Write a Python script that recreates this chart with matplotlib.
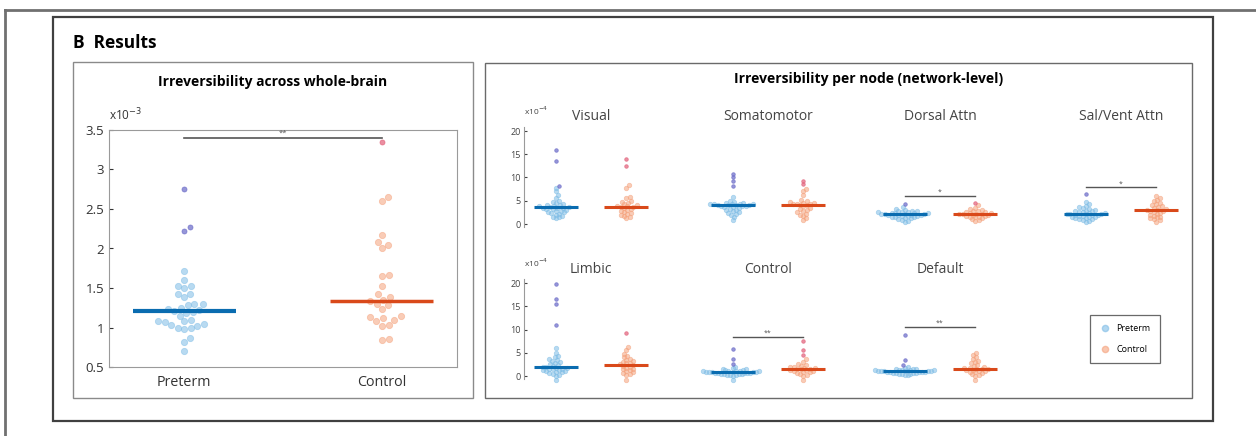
import numpy as np
import matplotlib
matplotlib.use('Agg')
import matplotlib.pyplot as plt
from matplotlib.patches import Rectangle
from matplotlib.lines import Line2D
from matplotlib.ticker import FormatStrFormatter

plt.rcParams['font.family'] = ['Open Sans', 'DejaVu Sans']

# whole-brain irreversibility (x10^-3)
groups = ['Preterm', 'Control']
pre_whole = [2.75, 2.27, 2.22, 1.72, 1.60, 1.53, 1.52, 1.50, 1.43, 1.42, 1.38, 1.30,
             1.30, 1.28, 1.25, 1.24, 1.22, 1.21, 1.20, 1.18, 1.15, 1.10, 1.08, 1.08,
             1.07, 1.05, 1.03, 1.02, 1.00, 1.00, 0.98, 0.87, 0.82, 0.70]
ctl_whole = [3.35, 2.65, 2.60, 2.17, 2.08, 2.05, 2.00, 1.67, 1.65, 1.53, 1.42, 1.38,
             1.35, 1.33, 1.30, 1.28, 1.23, 1.15, 1.13, 1.12, 1.10, 1.08, 1.03, 1.02,
             0.85, 0.84]
whole_sig = (3.4, '**')

# per network irreversibility (x10^-4)
networks = ['Visual', 'Somatomotor', 'Dorsal Attn', 'Sal/Vent Attn',
            'Limbic', 'Control', 'Default']
pre_net = [
    [16.0, 13.5, 8.2, 7.8, 7.0, 6.2, 5.6, 5.0, 4.8, 4.5, 4.3, 4.1, 4.0, 3.9, 3.8, 3.7, 3.6,
     3.5, 3.5, 3.4, 3.3, 3.2, 3.0, 2.9, 2.8, 2.6, 2.5, 2.3, 2.2, 2.0, 1.8, 1.6, 1.4, 1.2],
    [10.8, 10.0, 9.2, 8.2, 5.8, 5.0, 4.8, 4.6, 4.5, 4.4, 4.3, 4.3, 4.2, 4.2, 4.1, 4.1, 4.0,
     4.0, 3.9, 3.9, 3.8, 3.7, 3.6, 3.5, 3.3, 3.1, 3.0, 2.8, 2.6, 2.4, 2.2, 2.0, 1.5, 0.8],
    [4.2, 3.6, 3.2, 3.0, 2.9, 2.8, 2.7, 2.6, 2.5, 2.5, 2.4, 2.4, 2.3, 2.3, 2.2, 2.2, 2.1,
     2.1, 2.0, 2.0, 1.9, 1.9, 1.8, 1.8, 1.7, 1.6, 1.5, 1.4, 1.3, 1.2, 1.0, 0.9, 0.7, 0.5],
    [6.5, 4.8, 4.3, 3.9, 3.6, 3.4, 3.2, 3.0, 2.9, 2.8, 2.7, 2.6, 2.5, 2.4, 2.3, 2.2, 2.2,
     2.1, 2.1, 2.0, 2.0, 1.9, 1.8, 1.7, 1.6, 1.5, 1.4, 1.3, 1.2, 1.1, 1.0, 0.9, 0.7, 0.5],
    [19.7, 16.5, 15.5, 11.0, 6.0, 5.0, 4.4, 4.0, 3.7, 3.4, 3.2, 3.0, 2.8, 2.6, 2.4, 2.2, 2.0,
     1.9, 1.8, 1.7, 1.6, 1.5, 1.4, 1.3, 1.2, 1.1, 1.0, 0.9, 0.8, 0.6, 0.5, 0.3, 0.1, -0.8],
    [5.8, 3.6, 2.6, 2.0, 1.7, 1.5, 1.4, 1.3, 1.2, 1.1, 1.1, 1.0, 1.0, 1.0, 0.9, 0.9, 0.9,
     0.8, 0.8, 0.8, 0.7, 0.7, 0.7, 0.6, 0.6, 0.5, 0.5, 0.4, 0.4, 0.3, 0.3, 0.2, 0.1, -0.8],
    [8.8, 3.4, 2.4, 2.0, 1.8, 1.6, 1.5, 1.4, 1.3, 1.3, 1.2, 1.2, 1.2, 1.1, 1.1, 1.1, 1.0,
     1.0, 1.0, 1.0, 0.9, 0.9, 0.9, 0.8, 0.8, 0.7, 0.7, 0.6, 0.6, 0.5, 0.5, 0.4, 0.3, 0.2],
]
ctl_net = [
    [14.0, 12.5, 8.3, 7.7, 5.8, 5.5, 5.0, 4.8, 4.6, 4.3, 4.1, 3.9, 3.8, 3.7, 3.6, 3.4, 3.2,
     3.0, 2.8, 2.6, 2.4, 2.2, 2.0, 1.8, 1.5, 1.2],
    [9.3, 8.5, 7.6, 7.0, 6.2, 5.2, 4.9, 4.7, 4.6, 4.5, 4.4, 4.3, 4.2, 4.1, 4.0, 3.8, 3.5,
     3.2, 3.0, 2.8, 2.5, 2.2, 2.0, 1.8, 1.3, 0.9],
    [4.6, 4.0, 3.5, 3.2, 3.0, 2.8, 2.7, 2.6, 2.5, 2.4, 2.3, 2.2, 2.2, 2.1, 2.1, 2.0, 1.9,
     1.8, 1.7, 1.6, 1.5, 1.4, 1.2, 1.0, 0.8, 0.6],
    [6.0, 5.6, 5.2, 4.9, 4.6, 4.4, 4.1, 3.9, 3.7, 3.5, 3.3, 3.1, 3.0, 2.9, 2.8, 2.6, 2.4,
     2.2, 2.0, 1.8, 1.6, 1.4, 1.2, 1.0, 0.8, 0.5],
    [9.2, 6.2, 5.5, 4.8, 4.3, 4.0, 3.7, 3.5, 3.3, 3.1, 2.9, 2.7, 2.5, 2.4, 2.2, 2.0, 1.8,
     1.6, 1.4, 1.2, 1.0, 0.8, 0.6, 0.4, 0.2, -0.8],
    [7.5, 5.6, 4.6, 3.6, 3.0, 2.6, 2.4, 2.2, 2.0, 1.9, 1.8, 1.7, 1.6, 1.5, 1.4, 1.3, 1.2,
     1.1, 1.0, 0.9, 0.8, 0.6, 0.5, 0.3, 0.1, -0.8],
    [5.0, 4.5, 4.0, 3.6, 3.2, 3.0, 2.7, 2.4, 2.2, 2.0, 1.8, 1.7, 1.6, 1.5, 1.4, 1.3, 1.2,
     1.1, 1.0, 0.9, 0.8, 0.6, 0.4, 0.2, 0.0, -0.8],
]
net_sig = {'Dorsal Attn': (6.0, '*'), 'Sal/Vent Attn': (7.9, '*'),
           'Control': (8.4, '**'), 'Default': (10.5, '**')}
net_ticks = [0, 5, 10, 15, 20]

PRE_DOT, PRE_OUT, PRE_LINE = '#7fbde6', '#6a6ac8', '#0a6cb0'
CTL_DOT, CTL_OUT, CTL_LINE = '#f5a27c', '#e2607a', '#d9491a'

W, H = 1256, 436


def rect(x0, y0, x1, y1):
    # pixel box -> figure fraction
    return [x0 / W, 1 - y1 / H, (x1 - x0) / W, (y1 - y0) / H]


def swarm(vals, ypx, xpx, d, maxw):
    # simple beeswarm: offsets (in x data units) so dots don't overlap,
    # squeezed to +-maxw like matlab swarmchart
    ys = np.asarray(vals, dtype=float) * ypx
    xs = np.zeros(len(ys))
    placed = []
    for i in np.argsort(ys):
        y = ys[i]
        near = [(px, py) for px, py in placed if abs(py - y) < d]
        best = 0.0
        if near:
            cands = [0.0]
            for px, py in near:
                dx = np.sqrt(d ** 2 - (py - y) ** 2)
                cands += [px + dx, px - dx]
            for c in sorted(cands, key=abs):
                if all((c - px) ** 2 + (y - py) ** 2 >= d ** 2 - 1e-6 for px, py in near):
                    best = c
                    break
        xs[i] = best
        placed.append((best, y))
    xs = xs / xpx
    m = np.abs(xs).max()
    if m > maxw:
        xs = xs * maxw / m
    return xs


def draw_group(ax, pos, vals, ypx, xpx, d, maxw, ms, half, lw, dot, out, line):
    vals = np.asarray(vals)
    offs = swarm(vals, ypx, xpx, d, maxw)
    q1, q3 = np.percentile(vals, [25, 75])
    hi = vals > q3 + 1.5 * (q3 - q1)
    ax.plot(pos + offs[~hi], vals[~hi], 'o', ms=ms, mfc=dot, mec=dot, alpha=0.55,
            mew=0.6, clip_on=False, zorder=2)
    ax.plot(pos + offs[hi], vals[hi], 'o', ms=ms * 0.8, mfc=out, mec=out, alpha=0.7,
            mew=0.6, clip_on=False, zorder=2)
    med = np.median(vals)
    ax.plot([pos - half, pos + half], [med, med], color=line, lw=lw,
            solid_capstyle='butt', zorder=3)


fig = plt.figure(figsize=(12.56, 4.36), dpi=100)

# slide frames
fig.add_artist(Line2D([5 / W, 1], [1 - 10 / H, 1 - 10 / H], color='#707070', lw=2,
                      transform=fig.transFigure))
fig.add_artist(Line2D([5 / W, 5 / W], [0, 1 - 10 / H], color='#707070', lw=2,
                      transform=fig.transFigure))
for box, c, w in [((53, 17, 1213, 421), '#404040', 1.6),
                  ((73, 62, 473, 398), '#8a8a8a', 1.0),
                  ((485, 63, 1192, 398), '#6a6a6a', 1.0)]:
    r = rect(*box)
    fig.add_artist(Rectangle((r[0], r[1]), r[2], r[3], fill=False, ec=c, lw=w,
                             transform=fig.transFigure))

fig.text(73 / W, 1 - 43 / H, 'B  Results', fontsize=12.5, fontweight='bold',
         va='center', ha='left')
fig.text(273 / W, 1 - 82 / H, 'Irreversibility across whole-brain', fontsize=10,
         fontweight='bold', ha='center', va='center')
fig.text(869 / W, 1 - 79 / H, 'Irreversibility per node (network-level)', fontsize=10,
         fontweight='bold', ha='center', va='center')

# ---- left panel
ax = fig.add_axes(rect(109, 130, 457, 367))
ax.set_xlim(0.62, 2.38)
ax.set_ylim(0.5, 3.5)
ypx = 237 / 3.0
xpx = 348 / 1.76
draw_group(ax, 1, pre_whole, ypx, xpx, 7.5, 0.13, 4.5, 0.26, 3,
           PRE_DOT, PRE_OUT, PRE_LINE)
draw_group(ax, 2, ctl_whole, ypx, xpx, 7.5, 0.13, 4.5, 0.26, 2.5,
           CTL_DOT, CTL_OUT, CTL_LINE)
ax.plot([1, 2], [whole_sig[0]] * 2, color='#555555', lw=1.2)
ax.text(1.5, whole_sig[0] + 0.01, whole_sig[1], ha='center', va='bottom', fontsize=5.5,
        color='#555555')
ax.set_xticks([1, 2])
ax.set_xticklabels(groups, fontsize=10.3, color='#333333')
ax.set_yticks(np.arange(0.5, 3.51, 0.5))
ax.yaxis.set_major_formatter(FormatStrFormatter('%g'))
ax.tick_params(axis='y', direction='in', length=3, labelsize=9.5, colors='#333333')
ax.tick_params(axis='x', length=0, pad=6)
for s in ax.spines.values():
    s.set_color('#9a9a9a')
    s.set_linewidth(0.8)
ax.text(0.0, 1.03, r'x10$^{-3}$', transform=ax.transAxes, fontsize=8.5,
        color='#333333', ha='left', va='bottom')

# ---- right panel, one small axes per network
row_y0 = [224, 376]           # pixel y of value 0 per row
mids = [591, 768, 940, 1121]  # pixel x of pair centre per column
nypx = 93 / 20.0
nxpx = 70.8
for k, name in enumerate(networks):
    row, col = divmod(k, 4)
    y0 = row_y0[row]
    if col == 0:
        xl = (0.55, 2.45)
    else:
        xl = (0.3, 2.7)
    x0 = mids[col] - (1.5 - xl[0]) * nxpx
    x1 = mids[col] + (xl[1] - 1.5) * nxpx
    yl = (-2.0, 21.0)
    a = fig.add_axes(rect(x0, y0 - yl[1] * nypx, x1, y0 - yl[0] * nypx))
    a.set_xlim(*xl)
    a.set_ylim(*yl)
    draw_group(a, 1, pre_net[k], nypx, nxpx, 3.6, 0.42, 3.2, 0.31, 2.2,
               PRE_DOT, PRE_OUT, PRE_LINE)
    draw_group(a, 2, ctl_net[k], nypx, nxpx, 3.6, 0.42, 3.2, 0.31, 2.2,
               CTL_DOT, CTL_OUT, CTL_LINE)
    if name in net_sig:
        sy, st = net_sig[name]
        a.plot([1, 2], [sy, sy], color='#555555', lw=1.0)
        a.text(1.5, sy, st, ha='center', va='bottom', fontsize=5, color='#555555')
    fig.text(mids[col] / W, 1 - (y0 - 107) / H, name, fontsize=10, color='#444444',
             ha='center', va='center')
    for s in ['top', 'right', 'bottom']:
        a.spines[s].set_visible(False)
    a.set_xticks([])
    if col == 0:
        a.spines['left'].set_color('#9a9a9a')
        a.spines['left'].set_linewidth(0.8)
        a.spines['left'].set_bounds(-0.7, 20.8)
        a.set_yticks(net_ticks)
        a.tick_params(axis='y', direction='in', length=2, labelsize=6.5,
                      colors='#444444', pad=2)
        a.text(0.0, 20.8 + 2.2, r'x10$^{-4}$', fontsize=6, color='#444444',
               ha='left', va='bottom', transform=a.get_yaxis_transform())
    else:
        a.spines['left'].set_visible(False)
        a.set_yticks([])
    a.patch.set_alpha(0)

handles = [Line2D([], [], ls='', marker='o', ms=4.5, mfc=PRE_DOT, mec=PRE_DOT, alpha=0.6),
           Line2D([], [], ls='', marker='o', ms=4.5, mfc=CTL_DOT, mec=CTL_DOT, alpha=0.6)]
leg = fig.legend(handles, groups, loc='center', bbox_to_anchor=(1125 / W, 1 - 339 / H),
                 fontsize=6.5, frameon=True, fancybox=False, edgecolor='#444444',
                 labelspacing=1.4, handletextpad=0.7, borderpad=1.0, handlelength=1.2)
leg.get_frame().set_linewidth(0.9)

fig.savefig('out.png', dpi=100)
